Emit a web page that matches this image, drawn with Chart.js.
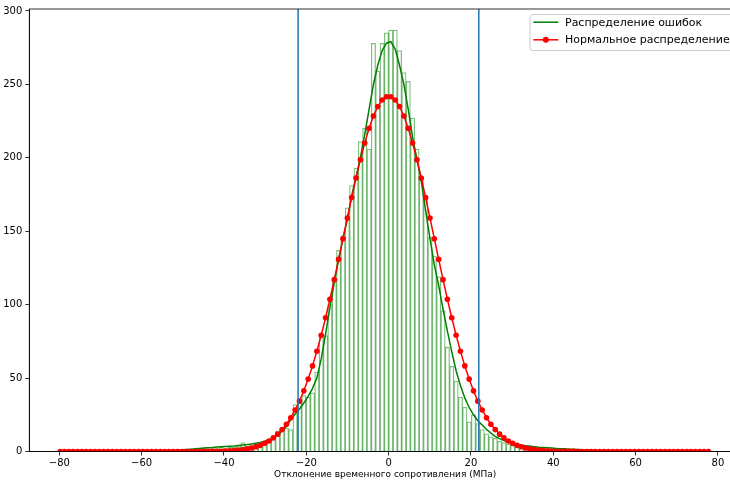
<!DOCTYPE html>
<html>
<head>
<meta charset="utf-8">
<script src="https://cdn.jsdelivr.net/npm/chart.js@4.4.1/dist/chart.umd.min.js"></script>
<style>
  html, body { margin: 0; padding: 0; background: #fff; overflow: hidden; }
  #wrap { width: 730px; height: 486px; overflow: hidden; }
</style>
</head>
<body>
<div id="wrap">
  <canvas id="chart" width="745" height="486" style="width:745px;height:486px"></canvas>
</div>
<script>
// histogram bins: 150 bins of equal width
const binStart = -80.33;
const binWidth = 1.057;
const binCount = 150;
const binCenters = Array.from({ length: binCount }, (_, i) => +(binStart + binWidth * (i + 0.5)).toFixed(3));

// bar heights (counts per bin)
const histCounts = [
  0,0,0,0,0,0,0,0,0,0, 0,0,0,0,0,0,0,0,0,0, 0,0,0,0,0,0,0,
  1,0,1,0,1,1,2,1,2,2,3,2,3,3,4,6,5,4,5,5,7,8,9,14,14,16,15,32,35,38,37,40,
  54,79,79,100,118,137,147,166,181,193,211,220,206,278,259,278,285,
  287,287,273,258,252,227,206,185,172,146,133,119,96,71,58,48,37,30,20,25,
  19,15,12,10,9,7,6,5,4,4,3,3,4,3,2,2,1,2,1,1,1,0,1,0,1,
  0,0,0,0,0,0,0,0,0,0, 0,0,0,0,0,0,0,0,0,0, 0,0,0,0,0,0,0,0,0
];

// smooth error distribution (green line)
const errorCurve = [
  0,0,0,0,0,0,0,0,0,0, 0,0,0,0,0,0,0,
  0.1,0.15,0.2,0.25,0.3,0.4,0.5,0.6,0.7,0.9,1.0,1.2,1.4,1.6,1.8,2.1,2.3,2.5,2.7,3.0,
  3.2,3.4,3.6,3.8,4.1,4.4,4.7,5.1,5.6,6.1,7.0,8.0,9.3,11.3,13.8,17,21.5,25.5,29,33,
  37.5,43,50,63,80,98,115,131,145,158,174,187,200,216,233,250,263,273,278,
  279,274,263,250,233,214,199,184,164,145,127,113,97,82,68,55,45,36.5,30,25,
  21,18,15,12.5,10.3,8.8,7.5,6.3,5.5,4.8,4.3,3.9,3.5,3.2,2.9,2.7,2.5,2.3,2.1,1.9,
  1.8,1.6,1.5,1.4,1.2,1.1,1.0,0.8,0.7,0.6,0.5,0.4,0.3,0.25,0.2,0.15,0.1,
  0,0,0,0,0,0,0,0,0,0, 0,0,0,0,0,0,0
];

// normal distribution (red dots)
const normalCurve = [
  0,0,0,0,0,0,0,0,0,0, 0,0,0,0,0,0,0,0,0,0, 0,0,0,0,0,0,0,0,0,0, 0,0,0,
  0.1,0.1,0.1,0.2,0.2,0.3,0.5,0.7,1.0,1.3,1.8,2.4,3.2,4.2,5.6,7.2,9.3,11.8,14.9,18.6,
  23.0,28.3,34.3,41.3,49.3,58.3,68.3,79.2,91.1,103.7,117.0,130.8,144.9,159.0,172.9,
  186.2,198.7,210.1,220.1,228.4,234.9,239.3,241.5,
  241.5,239.3,234.9,228.4,220.1,210.1,198.7,186.2,172.9,159.0,144.9,130.8,117.0,
  103.7,91.1,79.2,68.3,58.3,49.3,41.3,34.3,28.3,23.0,18.6,14.9,11.8,9.3,7.2,5.6,
  4.2,3.2,2.4,1.8,1.3,1.0,0.7,0.5,0.3,0.2,0.2,0.1,0.1,0.1,
  0,0,0,0,0,0,0,0,0,0, 0,0,0,0,0,0,0,0,0,0, 0,0,0,0,0,0,0,0,0,0, 0
];

// vertical marker lines (mean +/- 2 sigma)
const vLines = [-22.0, 21.9];

const xTicks = [-80, -60, -40, -20, 0, 20, 40, 60, 80];
const yTicks = [0, 50, 100, 150, 200, 250, 300];
const legendLabels = ['Распределение ошибок', 'Нормальное распределение'];
const xTitle = 'Отклонение временного сопротивления (МПа)';

const toPoints = vals => binCenters.map((c, i) => ({ x: c, y: vals[i] }));

Chart.defaults.font.family = '"DejaVu Sans", sans-serif';
Chart.defaults.font.size = 10;
Chart.defaults.color = '#000';

const extras = {
  id: 'extras',
  afterDatasetsDraw(chart) {
    const { ctx, chartArea: a, scales } = chart;
    ctx.save();
    ctx.strokeStyle = '#1f77b4';
    ctx.lineWidth = 1.5;
    vLines.forEach(v => {
      const px = scales.x.getPixelForValue(v);
      ctx.beginPath();
      ctx.moveTo(px, a.top);
      ctx.lineTo(px, a.bottom);
      ctx.stroke();
    });
    ctx.strokeStyle = '#000';
    ctx.lineWidth = 0.8;
    ctx.strokeRect(a.left, a.top, a.right - a.left, a.bottom - a.top);
    ctx.restore();
  },
  afterDraw(chart) {
    // legend in the upper right corner, inside the axes
    const { ctx, chartArea: a } = chart;
    const L = 530, T = a.top + 5.5, W = 205, H = 36, r = 3;
    ctx.save();
    ctx.beginPath();
    ctx.roundRect(L, T, W, H, r);
    ctx.fillStyle = 'rgba(255,255,255,0.8)';
    ctx.fill();
    ctx.strokeStyle = '#cccccc';
    ctx.lineWidth = 1;
    ctx.stroke();

    const rows = [T + 7.7, T + 25.3];
    ctx.strokeStyle = 'green';
    ctx.lineWidth = 1.5;
    ctx.beginPath();
    ctx.moveTo(L + 3.3, rows[0]);
    ctx.lineTo(L + 28.3, rows[0]);
    ctx.stroke();
    ctx.strokeStyle = 'red';
    ctx.beginPath();
    ctx.moveTo(L + 3.3, rows[1]);
    ctx.lineTo(L + 28.3, rows[1]);
    ctx.stroke();
    ctx.fillStyle = 'red';
    ctx.beginPath();
    ctx.arc(L + 15.8, rows[1], 3, 0, Math.PI * 2);
    ctx.fill();

    ctx.fillStyle = '#000';
    ctx.font = '11px "DejaVu Sans", sans-serif';
    ctx.textBaseline = 'middle';
    ctx.textAlign = 'left';
    legendLabels.forEach((t, i) => ctx.fillText(t, L + 35, rows[i] + 0.5));
    ctx.restore();
  }
};

new Chart(document.getElementById('chart'), {
  type: 'bar',
  data: {
    datasets: [
      {
        type: 'line',
        label: legendLabels[1],
        data: toPoints(normalCurve),
        borderColor: 'red',
        backgroundColor: 'red',
        borderWidth: 1.5,
        pointRadius: 2.8,
        pointBorderWidth: 0,
        tension: 0
      },
      {
        type: 'line',
        label: legendLabels[0],
        data: toPoints(errorCurve),
        borderColor: 'green',
        borderWidth: 1.5,
        pointRadius: 0,
        tension: 0
      },
      {
        type: 'bar',
        label: 'hist',
        data: toPoints(histCounts),
        backgroundColor: 'rgba(0,0,0,0)',
        borderColor: 'rgba(0,128,0,0.5)',
        borderWidth: 0.6,
        barPercentage: 1,
        categoryPercentage: 1
      }
    ]
  },
  options: {
    responsive: false,
    animation: false,
    layout: { padding: { top: 8.5, left: 0, right: 0, bottom: 0 } },
    plugins: {
      legend: { display: false },
      tooltip: { enabled: false }
    },
    scales: {
      x: {
        type: 'linear',
        min: -87.3,
        max: 85.6,
        offset: false,
        afterFit: s => { s.height = 34.5; },
        afterBuildTicks: s => { s.ticks = xTicks.map(v => ({ value: v })); },
        grid: { display: true, offset: false, drawOnChartArea: false, drawTicks: true, tickLength: 4, color: '#000', lineWidth: 0.8 },
        border: { display: true, color: '#000', width: 0.8 },
        ticks: {
          autoSkip: false,
          maxRotation: 0,
          padding: 2,
          callback: v => String(v).replace('-', '\u2212')
        },
        title: { display: true, text: xTitle, font: { size: 9 }, padding: { top: 0, bottom: 6 } }
      },
      y: {
        min: 0,
        max: 301.3,
        afterFit: s => { s.width = 29.3; },
        afterBuildTicks: s => { s.ticks = yTicks.map(v => ({ value: v })); },
        grid: { display: true, drawOnChartArea: false, drawTicks: true, tickLength: 4, color: '#000', lineWidth: 0.8 },
        border: { display: true, color: '#000', width: 0.8 },
        ticks: { padding: 3, callback: v => String(v) }
      }
    }
  },
  plugins: [extras]
});
</script>
</body>
</html>
